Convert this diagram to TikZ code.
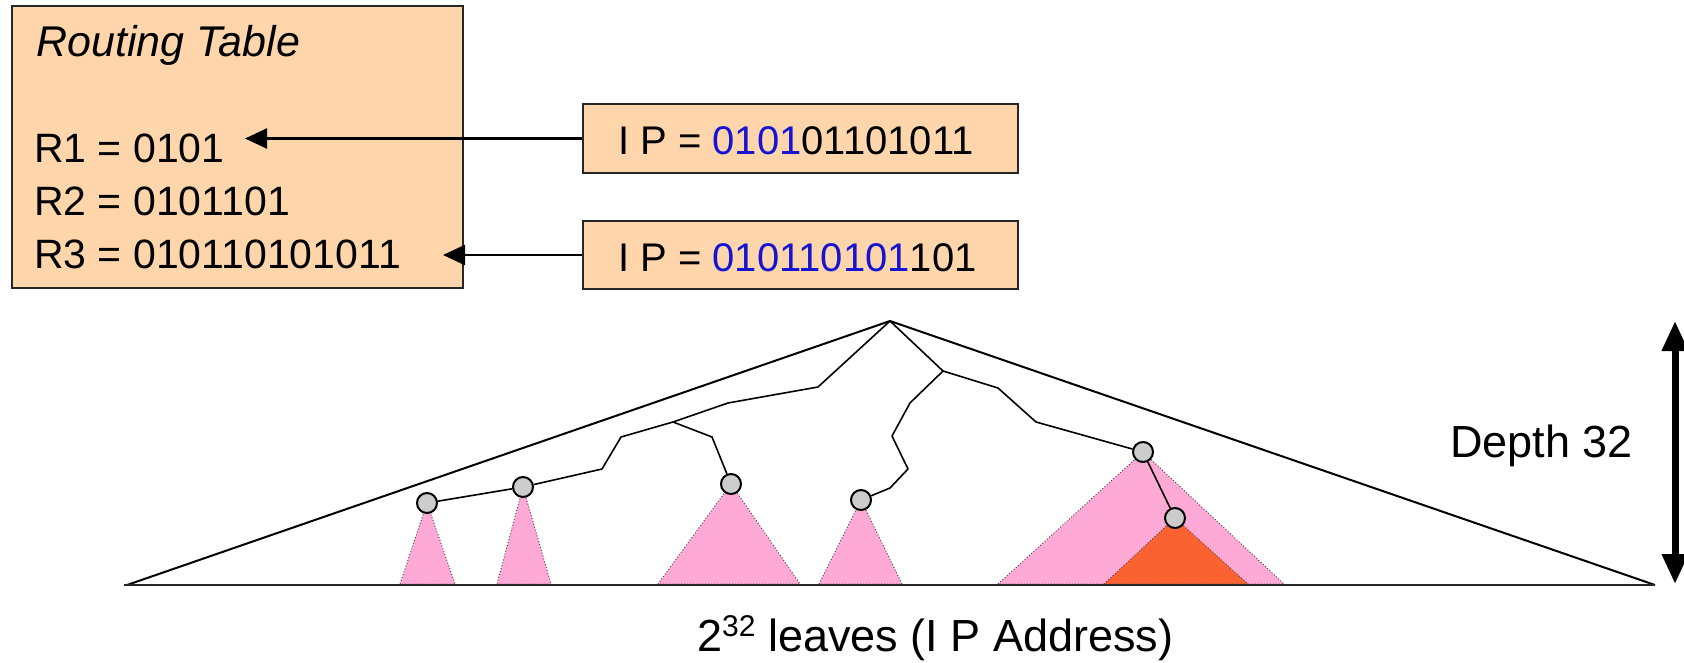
\documentclass[tikz,border=0pt]{standalone}
\usepackage{fontspec}
\setmainfont{Liberation Sans}
\usetikzlibrary{arrows.meta}
\definecolor{peach}{RGB}{255,214,172}
\definecolor{pinkt}{RGB}{255,170,214}
\definecolor{oranget}{RGB}{250,98,50}
\definecolor{nodegray}{RGB}{204,204,204}
\definecolor{ipblue}{RGB}{20,20,210}
\pgfdeclarelayer{bg}
\pgfsetlayers{bg,main}
\begin{document}
\begin{tikzpicture}[x=1pt,y=-1pt,
  box/.style={draw=black!85, line width=2pt, fill=peach, inner sep=0pt},
  txt/.style={anchor=base west, inner sep=0pt, font=\fontsize{41}{49}\selectfont},
  tnode/.style={circle, draw=black, line width=2pt, fill=nodegray, minimum size=20pt, inner sep=0pt},
  treeline/.style={line width=1.6pt, line join=round},
  subtree/.style={fill=pinkt, draw=black!70, dotted, line width=1pt},
  hit/.style={fill=oranget, draw=black!70, dotted, line width=1pt},
  ptr/.style={line width=2.5pt, -{Triangle[width=20pt,length=22pt]}},
]
\useasboundingbox (0,0) rectangle (1684,663);

% routing table
\node[box, minimum width=451pt, minimum height=282pt] (rt) at (237.5,147) {};
\node[txt, font=\fontsize{43}{50}\selectfont\itshape] (title) at (36,57) {Routing Table};
\node[txt] (r1) at (34,163) {R1 = 0101};
\node[txt] (r2) at (34,215) {R2 = 0101101};
\node[txt] (r3) at (34,268) {R3 = 010110101011};

% IP boxes
\node[box, minimum width=435pt, minimum height=69pt] (ip1) at (800.5,138.5) {};
\node[box, minimum width=435pt, minimum height=68pt] (ip2) at (800.5,255) {};
\node[txt, font=\fontsize{40}{48}\selectfont] (ipt1) at (618,155) {I P = \textcolor{ipblue}{0101}01101011};
\node[txt, font=\fontsize{40}{48}\selectfont] (ipt2) at (618,272) {I P = \textcolor{ipblue}{010110101}101};

\coordinate (t1) at (245,138.5);
\coordinate (t2) at (443,255);
\draw[ptr] (ip1.west) -- (t1);
\draw[ptr] (ip2.west) -- (t2);

% big triangle
\coordinate (root) at (890,321);
\coordinate (bl) at (127,585);
\coordinate (br) at (1655,585);
\coordinate (b0) at (124,585);
\draw[line width=2pt] (bl) -- (root) -- (br);
\draw[line width=2.5pt, black!85] (b0) -- (br);

% tree nodes
\node[tnode] (A) at (427,503) {};
\node[tnode] (B) at (523,487) {};
\node[tnode] (C) at (731,484) {};
\node[tnode] (D) at (861,500) {};
\node[tnode] (E) at (1143,452) {};
\node[tnode] (F) at (1175,518) {};

\begin{pgfonlayer}{bg}
  \draw[subtree] (A.center) -- (400,584) -- (455,584) -- cycle;
  \draw[subtree] (B.center) -- (497,584) -- (551,584) -- cycle;
  \draw[subtree] (C.center) -- (658,584) -- (800,584) -- cycle;
  \draw[subtree] (D.center) -- (819,584) -- (902,584) -- cycle;
  \draw[subtree] (E.center) -- (998,584) -- (1284,584) -- cycle;
  \draw[hit] (F.center) -- (1104,584) -- (1248,584) -- cycle;
\end{pgfonlayer}

% tree branches
\coordinate (j1) at (673,422);
\coordinate (j2) at (943,371);
\draw[treeline] (root) -- (818,387) -- (728,403) -- (j1) -- (621,437) -- (602,469) -- (B);
\draw[treeline] (B) -- (A);
\draw[treeline] (j1) -- (712,437) -- (C);
\draw[treeline] (root) -- (j2) -- (910,403) -- (892,436) -- (908,469) -- (890,488) -- (D);
\draw[treeline] (j2) -- (998,388) -- (1036,422) -- (E);
\draw[treeline] (E) -- (F);

% depth arrow
\coordinate (dtop) at (1675,321);
\coordinate (dbot) at (1675,584);
\draw[line width=7pt, {Triangle[width=25pt,length=30pt]}-{Triangle[width=25pt,length=30pt]}] (dtop) -- (dbot);
\node[txt, font=\fontsize{45}{50}\selectfont] (depth) at (1450,457) {Depth 32};

\node[txt, font=\fontsize{45}{52}\selectfont] (leaves) at (697,651) {2\raisebox{15pt}{\fontsize{30}{30}\selectfont 32} leaves (I P Address)};
\end{tikzpicture}
\end{document}
